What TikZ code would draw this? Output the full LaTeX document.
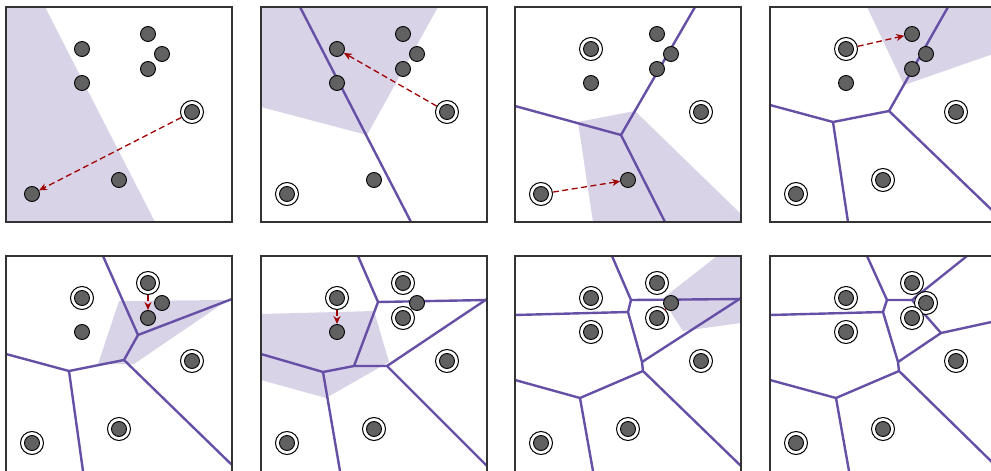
\documentclass[tikz,border=0pt]{standalone}
\usetikzlibrary{arrows.meta}
\definecolor{cellshade}{HTML}{D9D3E8}
\definecolor{vor}{HTML}{6650A6}
\definecolor{arrred}{HTML}{A00000}
\definecolor{dotfill}{HTML}{616161}
\tikzset{
  dotnode/.style={circle,draw=black,fill=dotfill,line width=0.9pt,minimum size=15pt,inner sep=0pt},
  ringnode/.style={circle,draw=black,fill=white,line width=1pt,minimum size=23pt,inner sep=0pt},
  vedge/.style={draw=vor,line width=2.4pt,line join=round,line cap=round},
  cell/.style={fill=cellshade},
  frame/.style={draw=black!80,line width=1.2pt},
  insarrow/.style={draw=arrred,line width=1.3pt,dash pattern=on 6pt off 3.5pt,-{Stealth[length=8pt,width=7pt]}},
  tinyarrow/.style={draw=arrred,line width=0.8pt,-{Stealth[length=2pt,width=2.5pt]}}
}
\newcommand\defsites{%
  \coordinate (sA) at (76,42);  \coordinate (sB) at (76,76);
  \coordinate (sC) at (142,27); \coordinate (sD) at (156,47);
  \coordinate (sE) at (142,62); \coordinate (sF) at (186,105);
  \coordinate (sG) at (113,173);\coordinate (sH) at (26,187);}
\newcommand\siterings[2]{\foreach \s in {#2}{\node[ringnode] (#1\s r) at (s\s) {};}}
\newcommand\sitedots[1]{\foreach \s in {A,B,C,D,E,F,G,H}{\node[dotnode] (#1\s) at (s\s) {};}}
\newcommand\panelclip{\clip (0,0) rectangle (226,215);}
\begin{document}
\begin{tikzpicture}[x=1pt,y=-1pt]
\useasboundingbox (0,0) rectangle (991,471);
\clip (0,0) rectangle (991,471);

% ---------- panel 1
\begin{scope}[shift={(6,7)}]
  \defsites
  \begin{scope}\panelclip
    \fill[cell] (0,0) -- (39,0) -- (149,215) -- (0,215) -- cycle;
  \end{scope}
  \siterings{a}{F}
  \sitedots{a}
  \draw[insarrow] (aFr) -- (aH);
  \draw[frame] (0,0) rectangle (226,215);
\end{scope}

% ---------- panel 2
\begin{scope}[shift={(261,7)}]
  \defsites
  \begin{scope}\panelclip
    \fill[cell] (0,0) -- (177,0) -- (106,128) -- (0,100) -- cycle;
    \draw[vedge] (39,0) -- (150,215);
  \end{scope}
  \siterings{b}{F,H}
  \sitedots{b}
  \draw[insarrow] (bFr) -- (bA);
  \draw[frame] (0,0) rectangle (226,215);
\end{scope}

% ---------- panel 3
\begin{scope}[shift={(515,7)}]
  \defsites
  \begin{scope}\panelclip
    \fill[cell] (63,115) -- (120,104) -- (226,207) -- (226,215) -- (78,215) -- cycle;
    \draw[vedge] (0,99) -- (106,128) -- (180,0);
    \draw[vedge] (106,128) -- (150,215);
  \end{scope}
  \siterings{c}{A,F,H}
  \sitedots{c}
  \draw[insarrow] (cHr) -- (cG);
  \draw[frame] (0,0) rectangle (226,215);
\end{scope}

% ---------- panel 4
\begin{scope}[shift={(770,7)}]
  \defsites
  \begin{scope}\panelclip
    \fill[cell] (97,0) -- (134,78) -- (226,46) -- (226,0) -- cycle;
    \draw[vedge] (0,98) -- (63,115) -- (119,104) -- (178,0);
    \draw[vedge] (119,104) -- (226,207);
    \draw[vedge] (63,115) -- (78,215);
  \end{scope}
  \siterings{d}{A,F,G,H}
  \sitedots{d}
  \draw[insarrow] (dAr) -- (dC);
  \draw[frame] (0,0) rectangle (226,215);
\end{scope}

% ---------- panel 5
\begin{scope}[shift={(6,256)}]
  \defsites
  \begin{scope}\panelclip
    \fill[cell] (113,45) -- (222,44) -- (128,108) -- (92,108) -- cycle;
    \draw[vedge] (0,98) -- (63,115) -- (118,104) -- (132,79) -- (97,0);
    \draw[vedge] (63,115) -- (77,215);
    \draw[vedge] (118,104) -- (226,209);
    \draw[vedge] (132,79) -- (226,43);
  \end{scope}
  \siterings{e}{A,C,F,G,H}
  \sitedots{e}
  \draw[insarrow] (eCr) -- (eE);
  \draw[frame] (0,0) rectangle (226,220);
\end{scope}

% ---------- panel 6
\begin{scope}[shift={(261,256)}]
  \defsites
  \begin{scope}\panelclip
    \fill[cell] (0,58) -- (113,55) -- (128,106) -- (65,142) -- (0,124) -- cycle;
    \draw[vedge] (0,98) -- (62,116) -- (93,110) -- (126,110) -- (226,210);
    \draw[vedge] (62,116) -- (79,215);
    \draw[vedge] (93,110) -- (117,46) -- (97,0);
    \draw[vedge] (117,46) -- (226,44);
    \draw[vedge] (126,110) -- (226,43);
  \end{scope}
  \siterings{f}{A,C,E,F,G,H}
  \sitedots{f}
  \draw[insarrow] (fAr) -- (fB);
  \draw[frame] (0,0) rectangle (226,220);
\end{scope}

% ---------- panel 7
\begin{scope}[shift={(515,256)}]
  \defsites
  \begin{scope}\panelclip
    \fill[cell] (147,43) -- (202,0) -- (226,0) -- (226,67) -- (168,75) -- cycle;
    \draw[vedge] (97,0) -- (116,44) -- (226,43);
    \draw[vedge] (116,44) -- (113,56) -- (0,59);
    \draw[vedge] (113,56) -- (127,106) -- (128,115) -- (65,142) -- (0,124);
    \draw[vedge] (127,106) -- (226,42);
    \draw[vedge] (65,142) -- (78,215);
    \draw[vedge] (128,115) -- (226,210);
  \end{scope}
  \siterings{g}{A,B,C,E,F,G,H}
  \sitedots{g}
  \draw[tinyarrow] (gEr) -- (gD);
  \draw[frame] (0,0) rectangle (226,220);
\end{scope}

% ---------- panel 8
\begin{scope}[shift={(770,256)}]
  \defsites
  \begin{scope}\panelclip
    \draw[vedge] (97,0) -- (117,44) -- (142,44) -- (197,0);
    \draw[vedge] (142,44) -- (171,77) -- (226,65);
    \draw[vedge] (117,44) -- (113,56) -- (0,59);
    \draw[vedge] (113,56) -- (128,106) -- (171,77);
    \draw[vedge] (128,106) -- (129,115) -- (66,142) -- (0,124);
    \draw[vedge] (66,142) -- (79,215);
    \draw[vedge] (129,115) -- (226,210);
  \end{scope}
  \siterings{h}{A,B,C,D,E,F,G,H}
  \sitedots{h}
  \draw[frame] (0,0) rectangle (226,220);
\end{scope}
\end{tikzpicture}
\end{document}
